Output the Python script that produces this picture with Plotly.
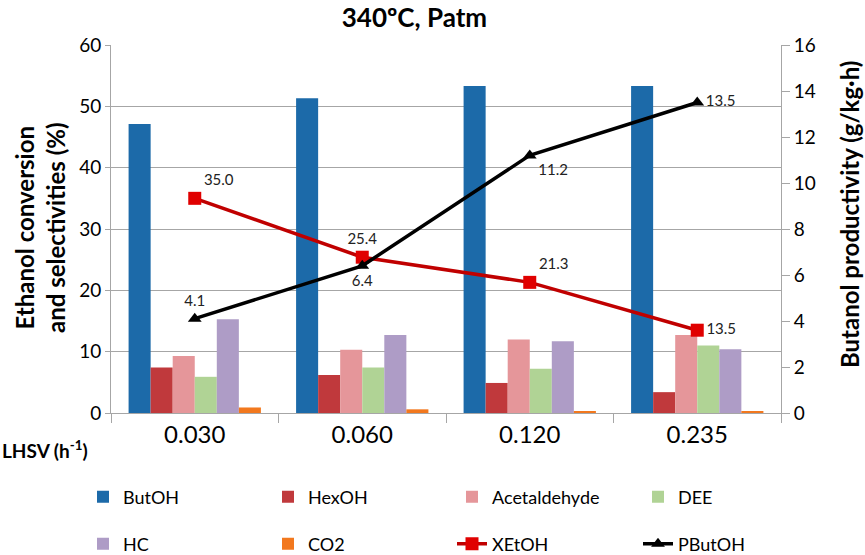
import plotly.graph_objects as go

# LHSV categories
lhsv = ["0.030", "0.060", "0.120", "0.235"]

# selectivities (%), left axis
butoh = [47.1, 51.3, 53.3, 53.3]
hexoh = [7.4, 6.2, 4.9, 3.4]
acetaldehyde = [9.3, 10.3, 12.0, 12.7]
dee = [5.9, 7.4, 7.2, 11.0]
hc = [15.3, 12.7, 11.7, 10.4]
co2 = [0.9, 0.6, 0.3, 0.2]

# ethanol conversion (%), left axis
xetoh = [35.0, 25.4, 21.3, 13.5]
# butanol productivity (g/kg.h), right axis
pbutoh = [4.1, 6.4, 11.2, 13.5]

FONT = "Lato, 'Open Sans', sans-serif"
GRID = "#a6a6a6"
W, H = 865, 555
L, R, T, B = 111, 84, 45, 142
PW, PH = W - L - R, H - T - B


def px(xs):
    # screen pixel -> paper x
    return (xs - L) / PW


def py(ys):
    # screen pixel -> paper y
    return (H - B - ys) / PH


bars = [
    ("ButOH", butoh, "#1c6aa9"),
    ("HexOH", hexoh, "#c0393c"),
    ("Acetaldehyde", acetaldehyde, "#e5969a"),
    ("DEE", dee, "#b0d395"),
    ("HC", hc, "#ae9cc6"),
    ("CO2", co2, "#f2781e"),
]
legnames = [f"legend{i}" for i in range(2, 10)]

fig = go.Figure()
for i, (name, vals, col) in enumerate(bars):
    fig.add_trace(go.Bar(x=lhsv, y=vals, name=name, marker_color=col,
                         marker_line_width=0, legend=legnames[i]))

fig.add_trace(go.Scatter(
    x=lhsv, y=xetoh, name="XEtOH", mode="lines+markers+text",
    line=dict(color="#c00000", width=3.5),
    marker=dict(symbol="square", size=13, color="#e00000"),
    text=[f"{v:.1f}" for v in xetoh],
    textposition=["top right", "top center", "top right", "middle right"],
    textfont=dict(size=15, color="#222"),
    legend=legnames[6],
))
fig.add_trace(go.Scatter(
    x=lhsv, y=pbutoh, name="PButOH", mode="lines+markers+text",
    yaxis="y2",
    line=dict(color="black", width=3.5),
    marker=dict(symbol="triangle-up", size=12, color="black"),
    text=[f"{v:.1f}" for v in pbutoh],
    textposition=["top center", "bottom center", "bottom right", "middle right"],
    textfont=dict(size=15, color="#222"),
    legend=legnames[7],
))

fig.update_layout(
    width=W, height=H,
    margin=dict(l=L, r=R, t=T, b=B, autoexpand=False),
    paper_bgcolor="white", plot_bgcolor="white",
    font=dict(family=FONT, color="black", size=17),
    title=dict(text="<b>340ºC, Patm</b>", x=px(432), xanchor="center",
               yref="container", y=1 - 18 / H, yanchor="middle",
               font=dict(size=26)),
    barmode="group", bargap=0.21, bargroupgap=0,
    xaxis=dict(
        type="category", showline=True, linecolor=GRID, linewidth=1,
        ticks="outside", tickson="boundaries", ticklen=9, tickcolor=GRID,
        tickfont=dict(size=24), showgrid=False, automargin=False,
    ),
    yaxis=dict(
        range=[0, 60], dtick=10, showgrid=True, gridcolor=GRID,
        showline=True, linecolor=GRID, ticks="outside", ticklen=5,
        tickcolor=GRID, tickfont=dict(size=19), zeroline=False,
        automargin=False,
    ),
    yaxis2=dict(
        range=[0, 16], dtick=2, overlaying="y", side="right", showgrid=False,
        showline=True, linecolor=GRID, ticks="outside", ticklen=8,
        tickcolor=GRID, tickfont=dict(size=19), zeroline=False,
        automargin=False,
    ),
)

# one legend per entry, laid out as a 4x2 grid like the original
col_x = [83, 268, 452, 638]
row_y = [497, 544]
for i, ln in enumerate(legnames):
    fig.update_layout({ln: dict(
        xref="container", yref="container",
        x=col_x[i % 4] / W, y=1 - row_y[i // 4] / H,
        xanchor="left", yanchor="middle", itemwidth=30,
        bgcolor="rgba(0,0,0,0)", font=dict(size=18),
    )})

fig.add_annotation(text="<b>Ethanol conversion<br>and selectivities (%)</b>",
                   xref="paper", yref="paper", x=px(40), y=py(228),
                   xanchor="center", yanchor="middle",
                   textangle=-90, showarrow=False, font=dict(size=24))
fig.add_annotation(text="<b>Butanol productivity (g/kg·h)</b>",
                   xref="paper", yref="paper", x=px(849), y=py(215),
                   xanchor="center", yanchor="middle",
                   textangle=-90, showarrow=False, font=dict(size=24))
fig.add_annotation(text="<b>LHSV (h<sup>-1</sup>)</b>", xref="paper", yref="paper",
                   x=px(0), y=py(449), xanchor="left", yanchor="middle",
                   showarrow=False, font=dict(size=19))

# drop the default 8px page margin so the figure fills the window exactly
fig.write_html("out.html", config={"displayModeBar": False},
               post_script="document.body.style.margin='0';")
